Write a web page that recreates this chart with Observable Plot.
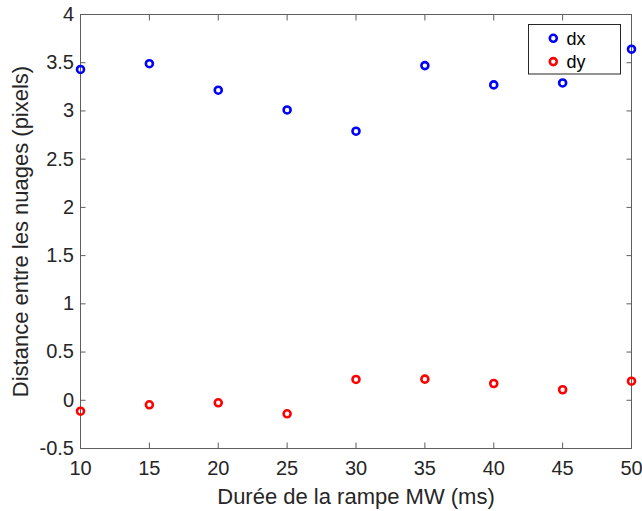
<!DOCTYPE html>
<html><head><meta charset="utf-8">
<script src="https://cdn.jsdelivr.net/npm/d3@7"></script>
<script src="https://cdn.jsdelivr.net/npm/@observablehq/plot@0.6"></script>
<style>
body{margin:0;background:#fff}
#chart{position:relative;width:642px;height:511px}
</style>
</head><body><div id="chart"></div>
<script>
const durations = [10, 15, 20, 25, 30, 35, 40, 45, 50];
const dxValues = [3.43, 3.49, 3.215, 3.01, 2.79, 3.47, 3.27, 3.29, 3.64];
const dyValues = [-0.113, -0.047, -0.026, -0.14, 0.216, 0.219, 0.174, 0.109, 0.198];
const xTicks = [10, 15, 20, 25, 30, 35, 40, 45, 50];
const yTicks = [-0.5, 0, 0.5, 1, 1.5, 2, 2.5, 3, 3.5, 4];
const seriesNames = ["dx", "dy"];
const seriesColors = ["#0000ff", "#ff0000"];
const xLabel = "Durée de la rampe MW (ms)";
const yLabel = "Distance entre les nuages (pixels)";

const rows = [
  ...durations.map((d, i) => ({x: d, y: dxValues[i], s: seriesNames[0]})),
  ...durations.map((d, i) => ({x: d, y: dyValues[i], s: seriesNames[1]}))
];

const textColor = "#262626";
const lineColor = "#5e5e5e";
const font = "'Liberation Sans', Arial, Helvetica, sans-serif";
const fmt = d => String(d);

const chart = Plot.plot({
  width: 642, height: 511,
  marginLeft: 80, marginRight: 11, marginTop: 14, marginBottom: 63,
  x: {domain: [10, 50]},
  y: {domain: [-0.5, 4]},
  color: {domain: seriesNames, range: seriesColors},
  style: {fontFamily: font, fontSize: "20px", color: textColor, background: "white"},
  marks: [
    Plot.frame({stroke: lineColor, strokeWidth: 1}),
    Plot.axisX({ticks: xTicks, tickFormat: fmt, anchor: "bottom", tickSize: -5.5, tickPadding: 17.3, stroke: lineColor, fill: textColor, label: null}),
    Plot.axisX({ticks: xTicks, anchor: "top", tickSize: -5.5, text: null, stroke: lineColor, label: null}),
    Plot.axisY({ticks: yTicks, tickFormat: fmt, anchor: "left", tickSize: -5.5, tickPadding: 12, stroke: lineColor, fill: textColor, label: null}),
    Plot.axisY({ticks: yTicks, anchor: "right", tickSize: -5.5, text: null, stroke: lineColor, label: null}),
    Plot.text([xLabel], {frameAnchor: "bottom", text: d => d, dy: 48.3, fontSize: 22, fill: textColor, textAnchor: "middle", lineAnchor: "middle"}),
    Plot.text([yLabel], {frameAnchor: "left", text: d => d, dx: -60, rotate: -90, fontSize: 22, fill: textColor, textAnchor: "middle", lineAnchor: "middle"}),
    Plot.dot(rows, {x: "x", y: "y", stroke: "s", r: 3.5, strokeWidth: 2.6, fill: "none"})
  ]
});

// In-plot legend (MATLAB style, upper right)
const svg = d3.select(chart);
const lg = svg.append("g").attr("font-family", font).attr("font-size", 18);
lg.append("rect").attr("x", 528.5).attr("y", 24.5).attr("width", 92).attr("height", 49.5)
  .attr("fill", "white").attr("stroke", textColor).attr("stroke-width", 1);
seriesNames.forEach((name, i) => {
  const cy = 38.3 + i * 23.3;
  lg.append("circle").attr("cx", 553.3).attr("cy", cy).attr("r", 3.5)
    .attr("fill", "none").attr("stroke", seriesColors[i]).attr("stroke-width", 2.6);
  lg.append("text").attr("x", 576).attr("y", cy).attr("dy", "0.35em")
    .attr("fill", "#000").text(name);
});

document.getElementById("chart").appendChild(chart);
</script>
</body></html>
